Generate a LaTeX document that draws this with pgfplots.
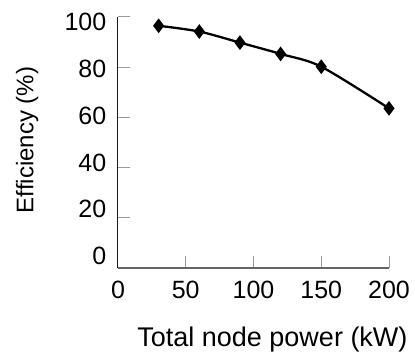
\documentclass[border=0pt]{standalone}
\usepackage{fontspec}
\setmainfont{Liberation Sans}
\usepackage{pgfplots}
\pgfplotsset{compat=1.18}
\begin{document}
\begin{tikzpicture}
\path[use as bounding box] (-118bp,-86bp) rectangle (297bp,268bp);
\begin{axis}[
  scale only axis,
  width=271bp, height=251bp,
  xmin=0, xmax=200, ymin=0, ymax=100,
  axis x line*=bottom, axis y line*=left,
  x axis line style={draw=black!60, line width=1.6bp},
  y axis line style={draw=black!90, line width=1bp},
  xtick={0,50,100,150,200}, ytick={0,20,40,60,80,100},
  tick align=inside,
  major tick length=12bp,
  tick style={draw=black!40, line width=1bp},
  /pgf/number format/assume math mode=true,
  tick label style={font=\fontsize{25bp}{30bp}\selectfont, inner sep=0pt},
  yticklabel style={anchor=east, xshift=-11.5bp, yshift={(12-3.4*\ticknum)*1bp}},
  xticklabel style={anchor=base, yshift=-30.3bp},
  xlabel={Total node power (kW)},
  ylabel={Efficiency (\%)},
  xlabel style={font=\fontsize{27bp}{32bp}\selectfont, at={(axis description cs:0.570,0)}, anchor=base, yshift=-78.7bp},
  ylabel style={font=\fontsize{24bp}{29bp}\selectfont, at={(axis description cs:-0.3125,0.51)}, anchor=base, rotate=0},
  clip=false,
]
\addplot[black, line width=2.3bp, smooth, tension=0.5, mark=diamond*, mark size=5.5bp, mark options={solid, fill=black}]
  coordinates {(30,96.5) (60,94.2) (90,89.8) (120,85.3) (150,80.2) (200,63.6)};
\end{axis}
\end{tikzpicture}
\end{document}
